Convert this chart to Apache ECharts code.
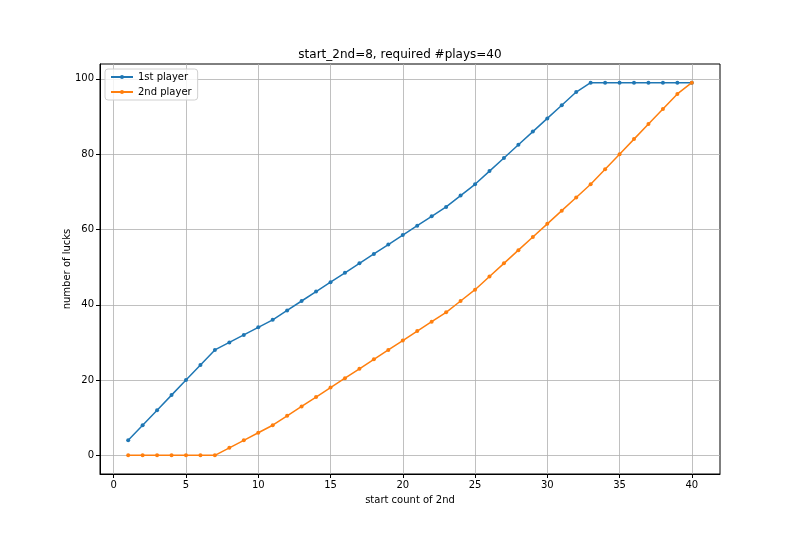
<!DOCTYPE html>
<html><head><meta charset="utf-8">
<script src="https://cdn.jsdelivr.net/npm/echarts@6/dist/echarts.min.js"></script>
<style>html,body{margin:0;padding:0;background:#fff}#c{width:800px;height:533px}</style>
</head><body><div id="c"></div>
<script>
const startCounts = [1,2,3,4,5,6,7,8,9,10,11,12,13,14,15,16,17,18,19,20,21,22,23,24,25,26,27,28,29,30,31,32,33,34,35,36,37,38,39,40];
const firstPlayer = [4,8,12,16,20,24,28,30,32,34,36,38.5,41,43.5,46,48.5,51,53.5,56,58.5,61,63.5,66,69,72,75.5,79,82.5,86,89.5,93,96.5,99,99,99,99,99,99,99,99];
const secondPlayer = [0,0,0,0,0,0,0,2,4,6,8,10.5,13,15.5,18,20.5,23,25.5,28,30.5,33,35.5,38,41,44,47.5,51,54.5,58,61.5,65,68.5,72,76,80,84,88,92,96,99];
const xTicks = [0,5,10,15,20,25,30,35,40];
const yTicks = [0,20,40,60,80,100];
const titleText = 'start_2nd=8, required #plays=40';

const font = 'DejaVu Sans';
const chart = echarts.init(document.getElementById('c'));
const pairs = a => startCounts.map((x,i)=>[x,a[i]]);
chart.setOption({
  animation:false,
  backgroundColor:'#fff',
  title:{text:titleText,left:'center',top:44,textStyle:{fontFamily:font,fontSize:12,fontWeight:'normal',color:'#000'}},
  legend:{orient:'vertical',left:105,top:69,itemWidth:22,itemHeight:5,itemGap:5,padding:[3,6,3,5],
    backgroundColor:'rgba(255,255,255,0.8)',borderColor:'#d0d0d0',borderWidth:1,borderRadius:3,
    textStyle:{fontFamily:font,fontSize:10,color:'#000'},data:['1st player','2nd player']},
  grid:{left:100,right:80,top:64,bottom:59,show:true,borderColor:'#000',borderWidth:1},
  xAxis:{type:'value',min:-0.95,max:41.95,
    name:'start count of 2nd',nameLocation:'middle',nameGap:21,nameMoveOverlap:false,nameTextStyle:{fontFamily:font,fontSize:10,color:'#000'},
    axisLine:{show:true,onZero:false,lineStyle:{color:'#000',width:1}},
    axisTick:{show:true,inside:false,length:4,customValues:xTicks,lineStyle:{color:'#000'}},
    axisLabel:{customValues:xTicks,fontFamily:font,fontSize:10,color:'#000',margin:6},
    splitLine:{show:true,lineStyle:{color:'#b0b0b0',width:0.8}}},
  yAxis:{type:'value',min:-4.95,max:103.95,
    name:'number of lucks',nameLocation:'middle',nameGap:28,nameMoveOverlap:false,nameRotate:90,nameTextStyle:{fontFamily:font,fontSize:10,color:'#000'},
    axisLine:{show:true,onZero:false,lineStyle:{color:'#000',width:1}},
    axisTick:{show:true,inside:false,length:4,customValues:yTicks,lineStyle:{color:'#000'}},
    axisLabel:{customValues:yTicks,fontFamily:font,fontSize:10,color:'#000',margin:6},
    splitLine:{show:true,lineStyle:{color:'#b0b0b0',width:0.8}}},
  series:[
    {name:'1st player',type:'line',data:pairs(firstPlayer),symbol:'circle',symbolSize:4,
      itemStyle:{color:'#1f77b4'},lineStyle:{color:'#1f77b4',width:1.5}},
    {name:'2nd player',type:'line',data:pairs(secondPlayer),symbol:'circle',symbolSize:4,
      itemStyle:{color:'#ff7f0e'},lineStyle:{color:'#ff7f0e',width:1.5}}
  ]
});
</script></body></html>
